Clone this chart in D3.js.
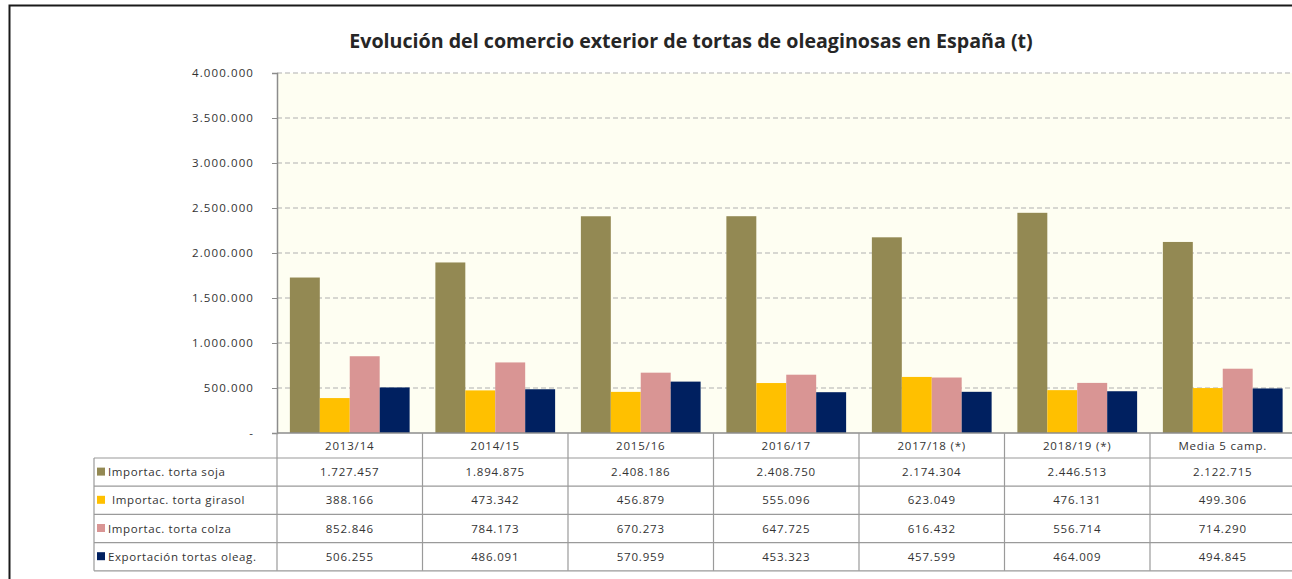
<!DOCTYPE html>
<html>
<head>
<meta charset="utf-8">
<script src="https://cdn.jsdelivr.net/npm/d3@7"></script>
<style>
  body { margin: 0; background: #fff; }
  svg { display: block; font-family: "Open Sans", "DejaVu Sans", sans-serif; }
</style>
</head>
<body>
<div id="chart"></div>
<script>
// Données
const categories = ["2013/14", "2014/15", "2015/16", "2016/17", "2017/18 (*)", "2018/19 (*)", "Media 5 camp."]
const seriesNames = ["Importac. torta soja", "Importac. torta girasol", "Importac. torta colza", "Exportación tortas oleag."]
const soja    = [1727457, 1894875, 2408186, 2408750, 2174304, 2446513, 2122715]
const girasol = [388166, 473342, 456879, 555096, 623049, 476131, 499306]
const colza   = [852846, 784173, 670273, 647725, 616432, 556714, 714290]
const export_ = [506255, 486091, 570959, 453323, 457599, 464009, 494845]
const yTicks  = [0, 500000, 1000000, 1500000, 2000000, 2500000, 3000000, 3500000, 4000000]
const colors  = ["#938953", "#FFC000", "#D99594", "#002060"]

const series = [soja, girasol, colza, export_]
const W = 1292, H = 579
const plot = { left: 277, right: 1295.5, top: 73, bottom: 433 }
const table = { left: 94, header: 458, rowH: 28.2 }
// texte du tableau : police un peu étirée comme dans l'original
const FS = 11.5, LS = 0.8

const locale = d3.formatLocale({ decimal: ",", thousands: ".", grouping: [3], currency: ["", "€"] })
const fmt = locale.format(",d")
const fmtTick = d => d === 0 ? "-" : fmt(d)

const svg = d3.select("#chart").append("svg").attr("width", W).attr("height", H)

// cadre extérieur
svg.append("rect")
  .attr("x", 9.5).attr("y", 5.5).attr("width", W + 20).attr("height", H + 20)
  .attr("fill", "#fff").attr("stroke", "#1a1a1a").attr("stroke-width", 2)

// titre
const title = svg.append("text")
  .attr("x", 691).attr("y", 48).attr("text-anchor", "middle")
  .attr("font-size", 18).attr("font-weight", 700).attr("fill", "#262626")
  .text("Evolución del comercio exterior de tortas de oleaginosas en España (t)")
const tl = title.node().getComputedTextLength()
title.attr("font-size", 18 * 684 / tl)

const x = d3.scaleBand().domain(categories).range([plot.left, plot.right])
const xs = d3.scaleBand().domain(d3.range(series.length)).range([0, x.bandwidth()]).paddingOuter(0.43)
const y = d3.scaleLinear().domain([0, 4000000]).range([plot.bottom, plot.top])

// fond de la zone de tracé
svg.append("rect")
  .attr("x", plot.left).attr("y", plot.top)
  .attr("width", plot.right - plot.left).attr("height", plot.bottom - plot.top)
  .attr("fill", "#FEFEF2")

// grille pointillée
svg.append("g").selectAll("line").data(yTicks.filter(d => d > 0)).join("line")
  .attr("x1", plot.left).attr("x2", plot.right)
  .attr("y1", d => y(d)).attr("y2", d => y(d))
  .attr("stroke", "#B0B0B0").attr("stroke-width", 1.2).attr("stroke-dasharray", "5 3")

// barres
series.forEach((vals, s) => {
  svg.append("g").selectAll("rect").data(vals).join("rect")
    .attr("x", (d, i) => x(categories[i]) + xs(s))
    .attr("width", xs.bandwidth())
    .attr("y", d => y(d))
    .attr("height", d => y(0) - y(d))
    .attr("fill", colors[s])
})

// axe Y
const yAxis = svg.append("g")
  .attr("transform", `translate(${plot.left},0)`)
  .call(d3.axisLeft(y).tickValues(yTicks).tickFormat(fmtTick).tickSize(5).tickPadding(18))
yAxis.select(".domain").attr("stroke", "#8c8c8c").attr("stroke-width", 1.5)
yAxis.selectAll(".tick line").attr("stroke", "#8c8c8c")
yAxis.selectAll(".tick text").attr("font-size", FS).attr("letter-spacing", 1.1)
  .attr("font-family", "Open Sans, sans-serif").attr("fill", "#333")

// tableau de données
const tableBottom = table.header + seriesNames.length * table.rowH
const grid = svg.append("g").attr("stroke", "#9a9a9a").attr("stroke-width", 1.2).attr("fill", "none")
// ligne de base de l'axe X
grid.append("line").attr("x1", plot.left).attr("x2", plot.right)
  .attr("y1", plot.bottom).attr("y2", plot.bottom).attr("stroke", "#8c8c8c").attr("stroke-width", 1.5)
// séparateurs verticaux
const vx = categories.map(c => x(c)).concat([plot.right])
vx.forEach(px => grid.append("line").attr("x1", px).attr("x2", px)
  .attr("y1", plot.bottom).attr("y2", tableBottom))
grid.append("line").attr("x1", table.left).attr("x2", table.left)
  .attr("y1", table.header).attr("y2", tableBottom)
// lignes horizontales
d3.range(seriesNames.length + 1).forEach(r => {
  const py = table.header + r * table.rowH
  grid.append("line").attr("x1", table.left).attr("x2", plot.right).attr("y1", py).attr("y2", py)
})

// étiquettes des catégories
svg.append("g").selectAll("text").data(categories).join("text")
  .attr("x", d => x(d) + x.bandwidth() / 2)
  .attr("y", (plot.bottom + table.header) / 2 + 4)
  .attr("text-anchor", "middle").attr("font-size", FS).attr("letter-spacing", LS).attr("fill", "#333")
  .text(d => d)

// lignes du tableau : légende + valeurs
seriesNames.forEach((name, s) => {
  const cy = table.header + (s + 0.5) * table.rowH
  const indent = s === 1 ? 4 : 0
  svg.append("rect")
    .attr("x", table.left + 3).attr("y", cy - 4.5).attr("width", 8).attr("height", 8)
    .attr("fill", colors[s])
  svg.append("text")
    .attr("x", table.left + 14 + indent).attr("y", cy + 4)
    .attr("font-size", FS).attr("letter-spacing", 0.6).attr("fill", "#333")
    .text(name)
  svg.append("g").selectAll("text").data(series[s]).join("text")
    .attr("x", (d, i) => x(categories[i]) + x.bandwidth() / 2)
    .attr("y", cy + 4)
    .attr("text-anchor", "middle").attr("font-size", FS).attr("letter-spacing", LS).attr("fill", "#333")
    .text(d => fmt(d))
})
</script>
</body>
</html>
